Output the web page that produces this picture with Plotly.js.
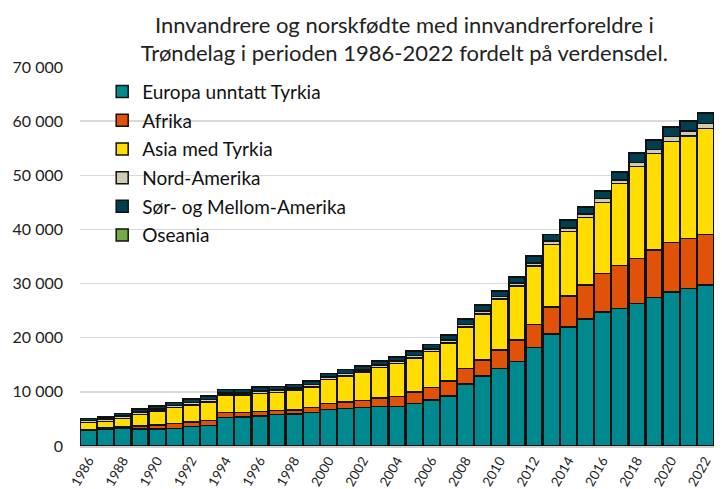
<!DOCTYPE html>
<html>
<head>
<meta charset="utf-8">
<script src="https://cdn.plot.ly/plotly-3.0.1.min.js"></script>
<style>html,body{margin:0;padding:0;background:#fff;}#chart{width:722px;height:489px;}</style>
</head>
<body>
<div id="chart"></div>
<script>
const years = ["1986","1987","1988","1989","1990","1991","1992","1993","1994","1995","1996","1997","1998","1999","2000","2001","2002","2003","2004","2005","2006","2007","2008","2009","2010","2011","2012","2013","2014","2015","2016","2017","2018","2019","2020","2021","2022"];
const europa = [2950,3070,3200,3150,3150,3270,3570,3810,5230,5350,5540,5780,5900,6150,6770,6950,7070,7260,7260,7810,8490,9280,11440,12920,14270,15620,18210,20730,22020,23430,24720,25400,26320,27430,28470,29090,29700];
const afrika = [130,250,310,550,700,880,860,930,920,800,860,740,740,920,1100,1170,1290,1600,1840,2150,2340,2770,2830,2950,3440,3940,4240,4920,5660,6270,7140,7930,8300,8730,9110,9230,9360];
const asia = [1220,1230,1540,2140,2580,2920,3140,3380,3260,3260,3320,3380,3690,3870,4430,4800,5290,5660,6160,6280,6640,7010,7690,8550,9410,9960,10760,11560,11930,12490,13160,15130,16980,17840,18690,18930,19550];
const nordAmerika = [380,400,450,420,400,400,450,450,420,420,450,430,420,430,430,450,420,450,440,450,450,480,520,540,500,560,600,620,680,650,680,700,800,780,860,900,950];
const sorMellomAmerika = [390,430,510,540,550,560,675,685,590,590,730,630,590,640,635,735,645,720,730,790,785,880,1015,1040,970,1085,1170,1195,1320,1345,1430,1480,1615,1700,1795,1880,1820];
const oseania = [30,30,30,30,30,30,35,35,40,40,40,40,40,40,45,45,45,50,50,50,55,60,65,70,70,75,80,85,90,95,100,100,105,110,115,120,120];
const tickYears = years.filter((y, i) => i % 2 === 0);

const seriesNames = ["Europa unntatt Tyrkia","Afrika","Asia med Tyrkia","Nord-Amerika","Sør- og Mellom-Amerika","Oseania"];
const seriesValues = [europa, afrika, asia, nordAmerika, sorMellomAmerika, oseania];
const seriesColors = ["#008A90","#E0520A","#FFDD00","#D0CCB4","#003E50","#70AD47"];

const data = seriesNames.map((name, i) => ({
  type: "bar",
  name: name,
  x: years,
  y: seriesValues[i],
  legendgroup: "g" + i,
  marker: { color: seriesColors[i], line: { color: "#111", width: 1.5 } },
  hoverinfo: "x+y+name"
}));

const layout = {
  width: 722, height: 489,
  margin: { l: 80, r: 8, t: 67, b: 43 },
  barmode: "stack",
  bargap: 0.05,
  separators: ", ",
  paper_bgcolor: "#fff",
  plot_bgcolor: "#fff",
  font: { family: "Lato, 'Open Sans', sans-serif", color: "#222" },
  title: {
    text: "Innvandrere og norskfødte med innvandrerforeldre i<br>Trøndelag i perioden 1986-2022 fordelt på verdensdel.",
    font: { size: 22, color: "#222", family: "Lato, 'Open Sans', sans-serif" },
    x: 0.56, xanchor: "center", xref: "container",
    y: 0.933, yanchor: "middle", yref: "container"
  },
  xaxis: {
    type: "category",
    tickvals: tickYears,
    ticktext: tickYears,
    tickangle: -60,
    tickfont: { size: 13.5, color: "#222" },
    showgrid: false,
    showline: true, linecolor: "#d0d0d0", linewidth: 1.5,
    ticks: ""
  },
  yaxis: {
    range: [0, 70000],
    dtick: 10000,
    tickformat: ",d",
    tickfont: { size: 16, color: "#222" },
    gridcolor: "#d9d9d9", gridwidth: 1.5,
    zeroline: false,
    ticks: "", ticklen: 0,
    ticklabelstandoff: 16,
    automargin: false
  },
  legend: {
    x: 0.035, xanchor: "left",
    y: 0.985, yanchor: "top",
    traceorder: "grouped",
    tracegroupgap: 1,
    itemwidth: 30,
    font: { size: 19, color: "#111" },
    bgcolor: "rgba(255,255,255,0)"
  },
  showlegend: true
};

Plotly.newPlot("chart", data, layout, { staticPlot: true });
</script>
</body>
</html>
